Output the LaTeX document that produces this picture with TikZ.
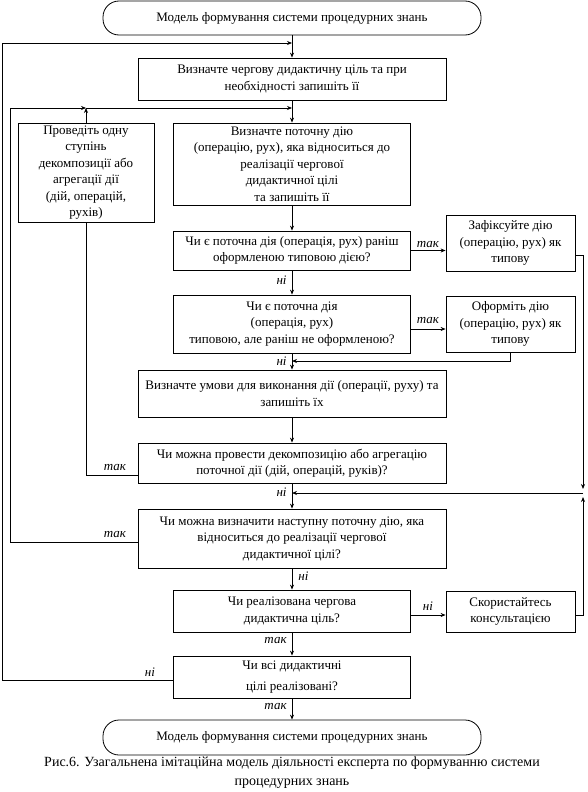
\documentclass[tikz,border=0pt]{standalone}
\usepackage{fontspec}
\setmainfont{Liberation Serif}
\usetikzlibrary{positioning, arrows.meta, calc}

\begin{document}
\begin{tikzpicture}[x=1pt, y=-1pt, line width=0.8pt,
        every node/.style={font=\fontsize{13}{16.5}\selectfont},
        blok/.style={draw, rectangle, align=center, inner sep=2pt},
        wide/.style={blok, minimum width=308pt},
        mid/.style={blok, minimum width=237pt},
        side/.style={blok, minimum width=129pt},
        term/.style={draw, rectangle, rounded corners=16pt, minimum width=378pt, minimum height=34pt},
        arr/.style={-{Stealth[length=5pt, width=4pt]}},
        lbl/.style={font=\itshape\fontsize{13}{14}\selectfont, inner sep=1pt}]
        \useasboundingbox (0,0) rectangle (587,792);
        \node[term] (start) at (292,18) {Модель формування системи процедурних знань};
        \node[wide, minimum height=42pt] (goal) at (292,79) {Визначте чергову дидактичну ціль та при\\необхідності запишіть її};
        \node[blok, minimum width=136pt, minimum height=99pt] (decomp) at (86,172.5) {Проведіть одну\\ступінь\\декомпозиції або\\агрегації дії\\(дій, операцій,\\рухів)};
        \node[mid, minimum height=82pt] (curact) at (292,164) {Визначте поточну дію\\(операцію, рух), яка відноситься до\\реалізації чергової\\дидактичної цілі\\та запишіть її};
        \node[mid, minimum height=39pt] (dec1) at (292,250.5) {Чи є поточна дія (операція, рух) раніш\\оформленою типовою дією?};
        \node[side, minimum height=56pt] (fix) at (510.5,243) {Зафіксуйте дію\\(операцію, рух) як\\типову};
        \node[mid, minimum height=58pt] (dec2) at (292,324) {Чи є поточна дія\\(операція, рух)\\типовою, але раніш не оформленою?};
        \node[side, minimum height=56pt] (form) at (510.5,324) {Оформіть дію\\(операцію, рух) як\\типову};
        \node[wide, minimum height=47pt] (cond) at (292,393.5) {Визначте умови для виконання дії (операції, руху) та\\запишіть їх};
        \node[wide, minimum height=40pt] (dec3) at (292,463) {Чи можна провести декомпозицію або агрегацію\\поточної дії (дій, операцій, руків)?};
        \node[wide, minimum height=59pt] (dec4) at (292,538.5) {Чи можна визначити наступну поточну дію, яка\\відноситься до реалізації чергової\\дидактичної цілі?};
        \node[mid, minimum height=42pt] (dec5) at (292,611) {Чи реалізована чергова\\дидактична ціль?};
        \node[side, minimum height=41pt] (consult) at (510.5,611.5) {Скористайтесь\\консультацією};
        \node[mid, minimum height=42pt, font=\fontsize{13}{21}\selectfont] (dec6) at (292,677) {Чи всі дидактичні\\цілі реалізовані?};
        \node[term, minimum height=35pt] (finish) at (292,737.5) {Модель формування системи процедурних знань};
        \node[align=center, font=\fontsize{14}{19}\selectfont] (caption) at (292,773) {Рис.6. Узагальнена імітаційна модель діяльності експерта по формуванню системи\\процедурних знань};
        \coordinate (topjoin) at (292,43);
        \coordinate (outer) at (2,43);
        \coordinate (midjoin) at (292,108);
        \coordinate (decjoin) at (86,108);
        \coordinate (inner) at (10,108);
        \coordinate (formjoin) at (292,361);
        \coordinate (rjoin) at (583,493);
        \coordinate (njoin) at (292,493);
        \draw[arr] (start) -- (goal);
        \draw[arr] ([yshift=-3pt]dec6.west) -| (outer) -- (topjoin);
        \draw[arr] (goal) -- (curact);
        \draw[arr] ([yshift=-4pt]dec4.west) -| (inner) -- (decjoin);
        \draw[arr] (decomp) -- (decjoin);
        \draw[arr] (decjoin) -- (midjoin);
        \draw ([yshift=-12pt]dec3.west) -| (decomp.south);
        \draw[arr] (curact) -- (dec1);
        \draw[arr] (dec1.east) -- (dec1.east -| fix.west);
        \draw[arr] (dec1) -- (dec2);
        \draw[arr] ([yshift=-5pt]dec2.east) -- ([yshift=-5pt]dec2.east -| form.west);
        \draw[arr] (form.south) |- (formjoin);
        \draw[arr] (dec2) -- (cond);
        \draw[arr] ([yshift=-12pt]fix.east) -| ([yshift=4pt]rjoin);
        \draw[arr] ([yshift=-4pt]consult.east) -| ([yshift=-4pt]rjoin);
        \draw[arr] (rjoin) -- (njoin);
        \draw[arr] (cond) -- (dec3);
        \draw[arr] (dec3) -- (dec4);
        \draw[arr] (dec4) -- (dec5);
        \draw[arr] ([yshift=-4pt]dec5.east) -- ([yshift=-4pt]dec5.east -| consult.west);
        \draw[arr] (dec5) -- (dec6);
        \draw[arr] (dec6) -- (finish);
        \node[lbl, anchor=east] (ni1) at (288,280) {ні};
        \node[lbl, anchor=south] (tak1) at (428,249) {так};
        \node[lbl] (tak2) at (428,321) {так};
        \node[lbl, anchor=east] (ni2) at (288,361) {ні};
        \node[lbl] (tak3) at (115,467) {так};
        \node[lbl, anchor=east] (ni3) at (288,492) {ні};
        \node[lbl] (tak4) at (115,534) {так};
        \node[lbl, anchor=west] (ni4) at (297,576) {ні};
        \node[lbl] (ni5) at (428,606) {ні};
        \node[lbl, anchor=east] (tak5) at (288,640) {так};
        \node[lbl] (ni6) at (150,672) {ні};
        \node[lbl, anchor=east] (tak6) at (288,706) {так};
\end{tikzpicture}
\end{document}
